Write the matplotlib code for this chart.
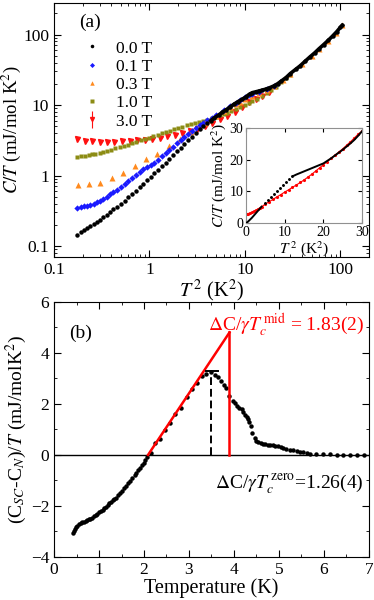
import numpy as np
import matplotlib
matplotlib.use('Agg')
import matplotlib.pyplot as plt

plt.rcParams['font.family'] = ['Liberation Serif', 'DejaVu Serif']
plt.rcParams['mathtext.fontset'] = 'stix'

# ---------------- panel (a): C/T vs T^2, log-log ----------------
fields = ['0.0 T', '0.1 T', '0.3 T', '1.0 T', '3.0 T']

t2_00 = [0.175, 0.19, 0.205, 0.22, 0.24, 0.26, 0.28, 0.30, 0.33, 0.36, 0.39, 0.42, 0.46,
         0.50, 0.55, 0.60, 0.66, 0.72, 0.79, 0.86, 0.94, 1.03, 1.12, 1.23, 1.35, 1.48,
         1.62, 1.77, 1.94, 2.12, 2.32, 2.54, 2.78, 3.05, 3.35, 3.65, 4.0,
         4.4, 4.8, 5.3, 5.8, 6.4, 7.0, 7.7, 8.5, 9.3, 10.2, 11.2, 12.0, 13.0, 14.0, 15.0,
         16.5, 18.0, 20.0, 22.0, 24.0, 27.0, 30.0, 34.0, 38.0, 43.0, 48.0, 54.0, 60.0,
         67.0, 75.0, 83.0, 92.0, 100.0, 105.0]
ct_00 = [0.145, 0.16, 0.17, 0.18, 0.19, 0.205, 0.22, 0.235, 0.255, 0.28, 0.30, 0.33, 0.36,
         0.40, 0.44, 0.49, 0.55, 0.61, 0.69, 0.77, 0.86, 0.96, 1.07, 1.20, 1.35, 1.52,
         1.72, 1.95, 2.2, 2.48, 2.8, 3.15, 3.55, 4.0, 4.5, 5.0, 5.5,
         6.0, 6.6, 7.2, 7.9, 8.6, 9.4, 10.3, 11.2, 12.0, 13.0, 14.3, 15.0, 15.4, 15.8, 16.2,
         16.8, 17.5, 18.6, 20.0, 21.8, 24.5, 28.0, 32.0, 36.0, 42.0, 48.0, 55.0, 63.0,
         72.0, 83.0, 95.0, 110.0, 126.0, 135.0]

t2_01 = [0.175, 0.19, 0.205, 0.22, 0.24, 0.26, 0.28, 0.30, 0.33, 0.36, 0.39, 0.42, 0.46,
         0.50, 0.55, 0.60, 0.66, 0.72, 0.79, 0.86, 0.94, 1.03, 1.12, 1.23, 1.35, 1.48,
         1.62, 1.77, 1.94, 2.12, 2.32, 2.54, 2.78, 3.05, 3.35, 3.65, 4.0,
         4.5, 5.0, 6.0, 7.0, 8.0, 9.0, 10.0, 11.0, 12.0, 14.0, 17.0, 20.0]
ct_01 = [0.35, 0.36, 0.37, 0.375, 0.385, 0.40, 0.42, 0.44, 0.47, 0.50, 0.54, 0.58, 0.63,
         0.69, 0.76, 0.84, 0.93, 1.02, 1.12, 1.22, 1.33, 1.40, 1.50, 1.68, 1.88, 2.08,
         2.33, 2.58, 2.88, 3.18, 3.52, 3.88, 4.28, 4.72, 5.18, 5.65, 6.15,
         6.6, 7.2, 8.4, 9.6, 10.7, 11.7, 12.8, 13.8, 14.5, 15.5, 17.0, 18.6]

t2_03 = [0.177, 0.233, 0.307, 0.404, 0.53, 0.70, 0.92, 1.21, 1.6, 2.1, 2.76,
         3.3, 3.8, 4.3, 5.0, 6.0, 7.0, 8.0, 9.0, 10.0, 12.0, 14.0, 17.0, 20.0, 25.0,
         30.0, 40.0, 50.0, 60.0, 75.0, 90.0, 105.0]
ct_03 = [0.73, 0.75, 0.79, 0.92, 1.10, 1.38, 1.72, 2.05, 2.6, 3.35, 4.2,
         5.0, 5.6, 6.2, 7.0, 8.2, 9.3, 10.3, 11.2, 12.0, 13.5, 14.8, 16.6, 18.5, 22.5,
         27.5, 38.0, 50.0, 62.0, 82.0, 105.0, 135.0]

t2_10 = [0.175, 0.19, 0.21, 0.23, 0.25, 0.27, 0.30, 0.33, 0.36, 0.40, 0.44, 0.49, 0.54,
         0.60, 0.66, 0.73, 0.81, 0.90, 1.0, 1.1, 1.22, 1.35, 1.5, 1.65, 1.83, 2.0, 2.2,
         2.45, 2.7, 3.0, 3.3, 3.65, 4.0, 4.5, 5.0, 5.5, 6.0, 6.5, 7.2, 8.0, 9.0, 10.0,
         11.0, 12.0, 13.5, 15.0, 17.0, 19.0, 21.0, 24.0, 27.0, 30.0]
ct_10 = [1.85, 1.88, 1.92, 1.96, 2.0, 2.05, 2.1, 2.17, 2.24, 2.32, 2.42, 2.52, 2.63,
         2.75, 2.88, 3.0, 3.15, 3.3, 3.45, 3.6, 3.78, 3.95, 4.15, 4.35, 4.55, 4.75, 4.95,
         5.15, 5.35, 5.55, 5.75, 5.95, 6.2, 6.5, 6.85, 7.2, 7.5, 7.8, 8.2, 8.7, 9.3, 9.9,
         10.6, 11.3, 12.3, 13.3, 14.8, 16.5, 18.3, 21.0, 24.0, 27.0]

t2_30 = [0.175, 0.21, 0.25, 0.30, 0.36, 0.43, 0.52, 0.62, 0.74, 0.89, 1.07, 1.28, 1.53,
         1.84, 2.2, 2.64, 3.16, 3.8, 4.55, 5.45, 6.5, 7.8, 9.3, 11.0, 13.0, 15.0, 18.0]
ct_30 = [3.25, 3.1, 3.05, 3.0, 3.0, 3.0, 3.05, 3.1, 3.15, 3.2, 3.3, 3.45, 3.6,
         3.8, 4.05, 4.3, 4.6, 5.0, 5.6, 6.3, 7.0, 8.0, 9.5, 11.0, 12.3, 13.5, 15.5]

# inset (linear)
in_t2_0 = [0.0, 0.5, 1.0, 1.5, 2.0, 2.5, 3.0, 3.5, 4.0,
           4.8, 5.6, 6.4, 7.2, 8.0, 8.8, 9.6, 10.4, 11.2, 12.0,
           12.3, 13.0, 14.0, 15.0, 16.0, 17.0, 18.0, 19.0, 20.0, 21.0, 22.0, 23.0, 24.0,
           25.0, 26.0, 27.0, 28.0, 29.0, 30.0]
in_ct_0 = [0.0, 0.5, 1.1, 1.7, 2.4, 3.1, 3.8, 4.5, 5.2,
           6.2, 7.2, 8.1, 9.1, 10.1, 11.0, 12.0, 12.9, 13.9, 14.7,
           14.9, 15.3, 15.8, 16.3, 16.8, 17.3, 17.8, 18.3, 18.8, 19.6, 20.4, 21.3, 22.2,
           23.1, 24.1, 25.1, 26.2, 27.5, 28.9]
in_t2_3 = [0.0, 0.3, 0.6, 1.0, 1.5, 2.0, 2.5, 3.0, 3.5, 4.0, 5.0, 6.0, 7.0, 8.0, 9.0,
           10.0, 11.0, 12.0, 13.0, 14.0, 15.0, 16.0, 17.0, 18.0, 19.0, 20.0, 21.0, 22.0,
           23.0, 24.0, 25.0, 26.0, 27.0, 28.0, 29.0, 30.0]
in_ct_3 = [3.0, 3.0, 3.05, 3.2, 3.4, 3.7, 4.05, 4.4, 4.8, 5.2, 6.0, 6.8, 7.5, 8.3, 9.0,
           9.8, 10.5, 11.3, 12.0, 12.8, 13.6, 14.5, 15.4, 16.4, 17.4, 18.4, 19.4, 20.4,
           21.4, 22.4, 23.4, 24.5, 25.6, 26.8, 28.0, 29.0]

# ---------------- panel (b): (C_SC - C_N)/T vs T ----------------
temp_b = [0.42, 0.44, 0.46, 0.49, 0.52, 0.55, 0.59, 0.63, 0.67, 0.70, 0.74, 0.78, 0.81,
          0.85, 0.89, 0.93, 0.96, 1.00, 1.04, 1.08, 1.11, 1.15, 1.19, 1.23, 1.27, 1.30,
          1.34, 1.37, 1.42, 1.46, 1.51, 1.56, 1.60, 1.64, 1.69, 1.74, 1.79, 1.83, 1.87,
          1.91, 1.95, 1.99, 2.03, 2.07, 2.15, 2.24, 2.36, 2.47, 2.58, 2.70, 2.83, 2.95,
          3.07, 3.17, 3.28, 3.37, 3.48, 3.57, 3.65, 3.72, 3.78, 3.83, 3.90, 3.98, 4.03,
          4.07, 4.12, 4.17, 4.21, 4.24, 4.28, 4.31, 4.34, 4.37, 4.41, 4.46, 4.50, 4.54,
          4.60, 4.65, 4.70, 4.76, 4.81, 4.87, 4.92, 4.98, 5.04, 5.09, 5.16, 5.24, 5.31,
          5.39, 5.46, 5.54, 5.62, 5.69, 5.83, 5.98, 6.13, 6.28, 6.43, 6.58, 6.73, 6.88]
dc_b = [-3.05, -2.97, -2.90, -2.83, -2.77, -2.72, -2.68, -2.64, -2.61, -2.59, -2.56, -2.53,
        -2.50, -2.46, -2.41, -2.35, -2.30, -2.25, -2.20, -2.15, -2.10, -2.04, -1.97, -1.90,
        -1.83, -1.76, -1.71, -1.67, -1.58, -1.48, -1.40, -1.31, -1.21, -1.11, -1.01, -0.90,
        -0.80, -0.69, -0.60, -0.50, -0.40, -0.30, -0.20, -0.10, 0.07, 0.46, 0.64, 0.98,
        1.24, 1.60, 1.82, 2.25, 2.58, 2.82, 3.08, 3.19, 3.24, 3.15, 3.06, 2.89, 2.75,
        2.63, 2.30, 2.10, 2.02, 1.91, 1.84, 1.78, 1.70, 1.58, 1.48, 1.39, 1.28, 1.15,
        0.86, 0.67, 0.55, 0.50, 0.47, 0.44, 0.42, 0.40, 0.39, 0.37, 0.35, 0.34, 0.30,
        0.27, 0.24, 0.21, 0.18, 0.14, 0.12, 0.10, 0.08, 0.05, 0.03, 0.02, 0.02, 0.01,
        0.0, 0.0, 0.01, 0.01]

fit_t = [2.09, 3.9]
fit_c = [0.0, 4.8]
tc_mid = 3.9
tc_zero = 3.5
peak_c = 3.3

fig = plt.figure(figsize=(3.74, 6.0), dpi=100)

# ---- top panel ----
ax = fig.add_axes([0.1444, 0.5717, 0.8422, 0.4233])
h30 = ax.errorbar(t2_30, ct_30, yerr=np.array(ct_30) * 0.06, fmt='v', color='#ff1010', ms=3.6,
                  elinewidth=0.8, capsize=0, zorder=2)
h10, = ax.plot(t2_10, ct_10, 's', color='#8c8c14', ms=3.2, mec='none', zorder=3)
h03, = ax.plot(t2_03, ct_03, '^', color='#ff8a1e', ms=4, mec='none', zorder=4)
h01, = ax.plot(t2_01, ct_01, 'D', color='#1a1aff', ms=3.2, mec='none', zorder=5)
ax.plot(t2_00[37:], ct_00[37:], '-', color='black', lw=2.6, zorder=6)
h00, = ax.plot(t2_00, ct_00, 'o', color='black', ms=3.2, mec='none', zorder=7)
ax.set_xscale('log')
ax.set_yscale('log')
ax.set_xlim(0.1, 200)
ax.set_ylim(0.07, 280)
ax.set_xticks([0.1, 1, 10, 100])
ax.set_xticklabels(['0.1', '1', '10', '100'])
ax.set_yticks([0.1, 1, 10, 100])
ax.set_yticklabels(['0.1', '1', '10', '100'])
ax.tick_params(which='both', direction='in', top=True, right=True, labelsize=12.5)
ax.tick_params(which='major', length=5)
ax.tick_params(which='minor', length=2.5)
ax.set_xlabel(r'$T^{\,2}$ (K$^2$)', fontsize=14.5, labelpad=0)
ax.set_ylabel(r'$C/T$ (mJ/mol K$^2$)', fontsize=13.5, labelpad=0)
ax.text(0.114, 0.925, '(a)', transform=ax.transAxes, fontsize=14, ha='center', va='center')
leg = ax.legend([h00, h01, h03, h10, h30], fields, loc='upper left',
                bbox_to_anchor=(0.075, 0.88), frameon=False, fontsize=12.5, labelspacing=0.12,
                handletextpad=1.0, handlelength=0.8, borderaxespad=0, markerscale=0.8)

# ---- inset ----
axi = fig.add_axes([0.658, 0.628, 0.310, 0.159])
axi.plot(in_t2_3, in_ct_3, '.', color='red', ms=2.5, zorder=2)
axi.plot(in_t2_3, in_ct_3, '-', color='red', lw=0.8, zorder=2)
axi.plot(in_t2_0[:9], in_ct_0[:9], '-', color='black', lw=1.4, zorder=3)
axi.plot(in_t2_0[9:19], in_ct_0[9:19], '.', color='black', ms=2.2, zorder=3)
axi.plot(in_t2_0[19:], in_ct_0[19:], '-', color='black', lw=1.4, zorder=3)
axi.set_xlim(0, 30)
axi.set_ylim(0, 30)
axi.set_xticks([0, 10, 20, 30])
axi.set_yticks([0, 10, 20, 30])
axi.tick_params(which='both', direction='in', top=True, right=True, labelsize=10, pad=2)
axi.tick_params(which='major', length=3)
for s in axi.spines.values():
    s.set_color('#909090')
axi.set_xlabel(r'$T^{\,2}$ (K$^2$)', fontsize=11, labelpad=0)
axi.set_ylabel(r'$C/T$ (mJ/mol K$^2$)', fontsize=11, labelpad=1)

# ---- bottom panel ----
bx = fig.add_axes([0.1444, 0.0717, 0.8422, 0.4253])
bx.axhline(0, color='black', lw=1.0, zorder=1)
bx.plot(temp_b, dc_b, 'o', color='black', ms=3.2, mec='none', zorder=3)
bx.plot(fit_t, fit_c, '-', color='red', lw=1.8, zorder=4)
bx.plot([tc_mid, tc_mid], [0, fit_c[1]], '-', color='red', lw=1.8, zorder=4)
bx.plot([tc_zero, tc_zero], [0, peak_c], '--', color='black', lw=1.4, dashes=(4, 2), zorder=4)
bx.plot([tc_zero - 0.12, tc_zero + 0.14], [peak_c, peak_c], '-', color='black', lw=1.4, zorder=4)
bx.set_xlim(0, 7)
bx.set_ylim(-4, 6)
bx.set_xticks(np.arange(0, 8, 1))
bx.set_xticks(np.arange(0, 7.5, 0.5), minor=True)
bx.set_yticks(np.arange(-4, 8, 2))
bx.set_yticks(np.arange(-4, 7, 1), minor=True)
bx.tick_params(which='both', direction='in', top=True, right=True, labelsize=12.5)
bx.tick_params(which='major', length=5)
bx.tick_params(which='minor', length=2.5)
bx.set_xlabel('Temperature (K)', fontsize=14.5, labelpad=0)
bx.set_ylabel(r'(C$_{SC}$-C$_N$)/$T$ (mJ/molK$^2$)', fontsize=14, labelpad=1)
bx.text(0.6, 4.75, '(b)', fontsize=14, ha='center', va='center')
bx.text(6.88, 5.1, r'$\Delta$C/$\gamma T_c^{\,\mathrm{mid}}$ = 1.83(2)', color='red',
        fontsize=14, ha='right', va='center')
bx.text(6.88, -1.15, r'$\Delta$C/$\gamma T_c^{\,\mathrm{zero}}$=1.26(4)', color='black',
        fontsize=14, ha='right', va='center')

plt.savefig('out.png', dpi=100)
